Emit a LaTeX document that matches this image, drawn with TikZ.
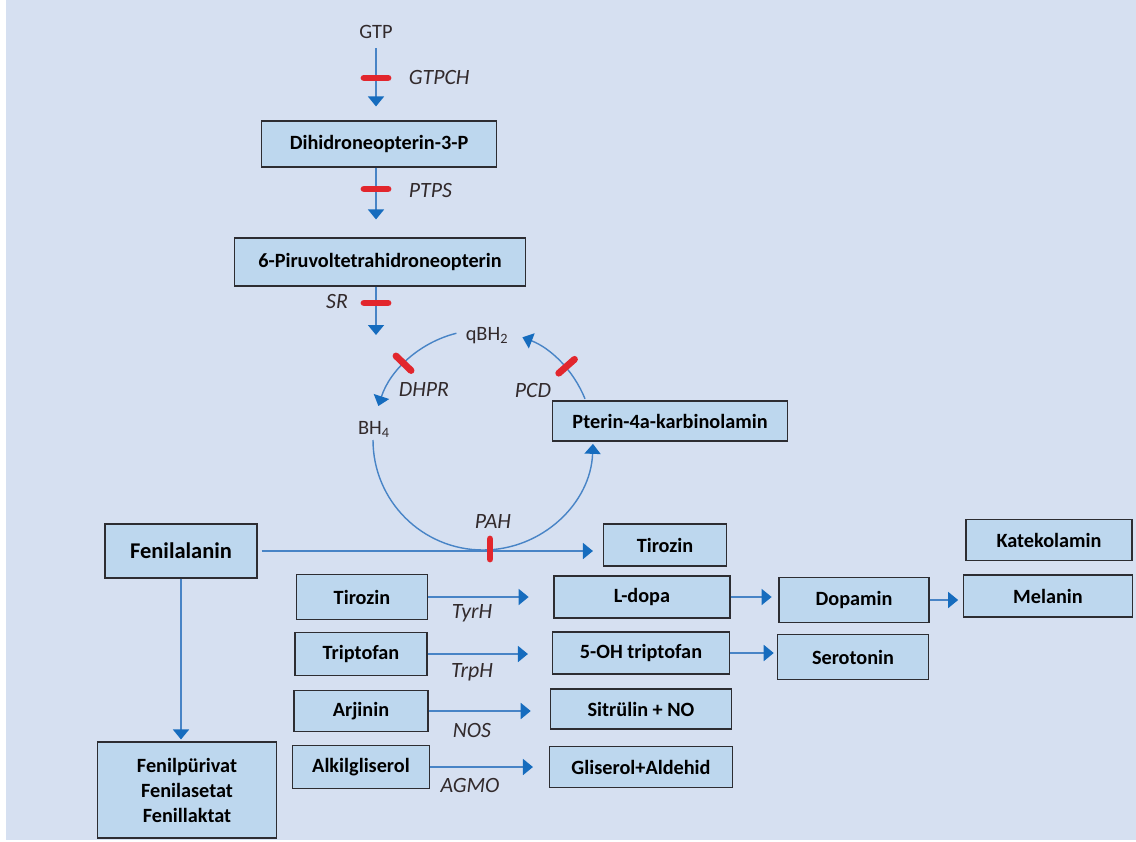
\documentclass[tikz,border=0pt]{standalone}
\usepackage{fontspec}
\setmainfont{Carlito}
\usetikzlibrary{arrows.meta}
\definecolor{bgblue}{RGB}{214,224,241}
\definecolor{boxfill}{RGB}{189,215,238}
\definecolor{boxline}{RGB}{45,45,50}
\definecolor{lineblue}{RGB}{72,132,198}
\definecolor{headblue}{RGB}{22,108,190}
\definecolor{barred}{RGB}{226,38,45}
\definecolor{txtdark}{RGB}{50,42,44}
\tikzset{
  box/.style 2 args={draw=boxline, line width=0.8pt, fill=boxfill, minimum width=#1*0.025cm,
    minimum height=#2*0.025cm, inner sep=0pt, text=black, font=\fontsize{14.4}{17.8}\selectfont\bfseries},
  enz/.style={font=\fontsize{15.5}{18}\selectfont\itshape, text=txtdark},
  mol/.style={font=\fontsize{14.5}{17}\selectfont, text=txtdark},
  arr/.style={draw=lineblue, line width=1.2pt, -{Triangle[width=0.4cm,length=0.25cm,color=headblue]}},
  ring/.style={arr, line width=1pt},
  block/.style={draw=barred, line width=0.17cm, line cap=round},
}
\begin{document}
\begin{tikzpicture}[x=0.025cm, y=-0.025cm]
\useasboundingbox (0,0) rectangle (1136,841);
\fill[bgblue] (6,0) rectangle (1136,840);

% pterin synthesis
\node[mol] (gtp) at (376,32) {GTP};
\node[box={235}{46}] (dhn) at (379,144) {Dihidroneopterin-3-P};
\node[box={291}{48}] (pir) at (380,262) {6-Piruvoltetrahidroneopterin};
\coordinate (srend) at (376,335);
\draw[arr, shorten <=0.12cm, shorten >=0.35cm] (gtp) -- (gtp |- dhn.north);
\draw[arr, shorten >=0.45cm] (gtp |- dhn.south) -- (gtp |- pir.north);
\draw[arr] (gtp |- pir.south) -- (srend);
\node[enz, anchor=west] (gtpch) at (404,78) {GTPCH};
\node[enz, anchor=west] (ptps) at (404,191) {PTPS};
\node[enz] (sr) at (337,302) {SR};

% BH4 cycle
\coordinate (ctr) at (483,440);
\node[mol] (qbh) at (487,336) {qBH\textsubscript{2}};
\node[mol] (bh) at (374,429) {BH\textsubscript{4}};
\node[box={235}{40}] (ptr) at (670,421) {Pterin-4a-karbinolamin};
\draw[ring] (ctr) ++(256:110) arc[start angle=256, end angle=198, radius=110];
\draw[ring] (ctr) ++(338:110) arc[start angle=338, end angle=291, radius=110];
\draw[ring] (ctr) ++(180:110) arc[start angle=180, end angle=2, radius=110];
\node[enz] (dhpr) at (424,390) {DHPR};
\node[enz] (pcd) at (533,390) {PCD};
\node[enz] (pah) at (493,522) {PAH};

% phenylalanine
\node[box={152}{54}, font=\fontsize{16}{19}\selectfont\bfseries] (fen) at (181,551) {Fenilalanin};
\node[box={123}{42}] (tir1) at (665,545) {Tirozin};
\node[box={179}{96}, align=center] (fpv) at (187,790) {Fenilpürivat\\Fenilasetat\\Fenillaktat};
\draw[arr, shorten <=0.1cm, shorten >=0.25cm] (fen.east) -- (fen.east -| tir1.west);
\draw[arr, shorten >=0.05cm] (fen) -- (fen |- fpv.north);

% other substrates
\node[box={131}{45}] (tir2) at (362,597) {Tirozin};
\node[box={132}{43}] (trp) at (361,654) {Triptofan};
\node[box={134}{41}] (arj) at (361,711) {Arjinin};
\node[box={137}{43}] (alk) at (361,767) {Alkilgliserol};
\node[box={176}{42}] (ldopa) at (642,597) {L-dopa};
\node[box={177}{42}] (oht) at (641,653) {5-OH triptofan};
\node[box={181}{40}] (sit) at (641,709) {Sitrülin + NO};
\node[box={183}{41}] (gli) at (641,767) {Gliserol+Aldehid};
\node[box={150}{45}] (dop) at (854,600) {Dopamin};
\node[box={151}{45}] (ser) at (853,657) {Serotonin};
\node[box={166}{41}] (kat) at (1049,540) {Katekolamin};
\node[box={169}{42}] (mel) at (1048,596) {Melanin};
\draw[arr, shorten >=0.62cm] (tir2.east) -- (tir2.east -| ldopa.west);
\draw[arr, shorten >=0.6cm] (trp.east) -- (trp.east -| oht.west);
\draw[arr, shorten >=0.48cm] (arj.east) -- (arj.east -| sit.west);
\draw[arr, shorten >=0.4cm] (alk.east) -- (alk.east -| gli.west);
\draw[arr, shorten >=0.17cm] (ldopa.east) -- (ldopa.east -| dop.west);
\draw[arr, shorten >=0.08cm] (oht.east) -- (oht.east -| ser.west);
\draw[arr, shorten >=0.12cm] (dop.east) -- (dop.east -| mel.west);
\node[enz] (tyrh) at (472,613) {TyrH};
\node[enz] (trph) at (472,672) {TrpH};
\node[enz] (nos) at (472,730) {NOS};
\node[enz] (agmo) at (470,785) {AGMO};

% enzyme blocks
\draw[block] (364,78) -- (388,78);
\draw[block] (364,189) -- (388,189);
\draw[block] (364,303) -- (388,303);
\draw[block] (ctr) ++(224:100) -- ++(224:21);
\draw[block] (ctr) ++(318.6:101) -- ++(318.6:21);
\draw[block] (490,539) -- (490,559);
\end{tikzpicture}
\end{document}
